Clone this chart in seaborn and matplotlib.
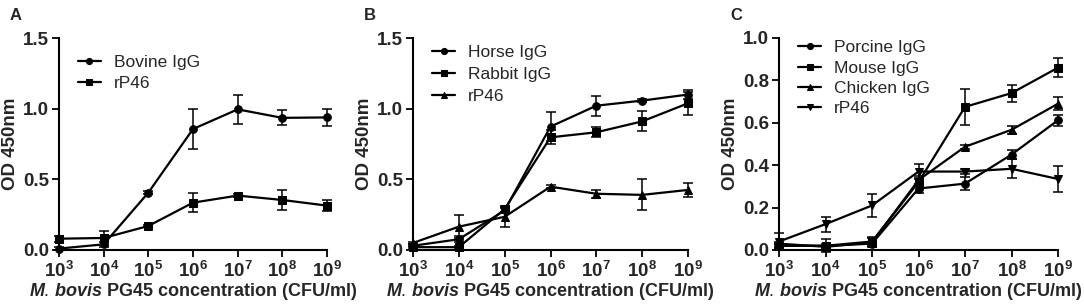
import numpy as np
import pandas as pd
import matplotlib
matplotlib.use("Agg")
import matplotlib.pyplot as plt
import seaborn as sns

sns.set_style("ticks")
plt.rcParams['font.family'] = ['Liberation Sans', 'DejaVu Sans']
plt.rcParams['mathtext.fontset'] = 'custom'
plt.rcParams['mathtext.it'] = 'Liberation Sans:italic:bold'
plt.rcParams['mathtext.bf'] = 'Liberation Sans:bold'
plt.rcParams['mathtext.rm'] = 'Liberation Sans'

conc = [1e3, 1e4, 1e5, 1e6, 1e7, 1e8, 1e9]
xtick_labels = [r"$\mathbf{10^{%d}}$" % k for k in range(3, 10)]

# Panel A
a_bovine = [0.01, 0.04, 0.406, 0.856, 0.995, 0.935, 0.938]
a_bovine_err = [0.01, 0.02, 0.01, 0.142, 0.10, 0.054, 0.06]
a_rp46 = [0.08, 0.085, 0.17, 0.335, 0.385, 0.354, 0.314]
a_rp46_err = [0.02, 0.05, 0.01, 0.066, 0.01, 0.07, 0.04]

# Panel B
b_horse = [0.03, 0.076, 0.28, 0.873, 1.021, 1.057, 1.10]
b_horse_err = [0.01, 0.02, 0.02, 0.10, 0.07, 0.01, 0.035]
b_rabbit = [0.02, 0.02, 0.29, 0.797, 0.833, 0.91, 1.038]
b_rabbit_err = [0.01, 0.01, 0.02, 0.05, 0.035, 0.07, 0.08]
b_rp46 = [0.05, 0.165, 0.235, 0.448, 0.398, 0.39, 0.425]
b_rp46_err = [0.01, 0.08, 0.07, 0.01, 0.03, 0.11, 0.047]

# Panel C
c_porcine = [0.02, 0.02, 0.03, 0.29, 0.313, 0.45, 0.612]
c_porcine_err = [0.01, 0.01, 0.01, 0.02, 0.03, 0.02, 0.025]
c_mouse = [0.02, 0.02, 0.04, 0.32, 0.675, 0.74, 0.86]
c_mouse_err = [0.01, 0.03, 0.02, 0.02, 0.085, 0.04, 0.045]
c_chicken = [0.03, 0.015, 0.035, 0.33, 0.487, 0.567, 0.69]
c_chicken_err = [0.01, 0.01, 0.02, 0.02, 0.01, 0.02, 0.03]
c_rp46 = [0.04, 0.122, 0.21, 0.37, 0.37, 0.383, 0.335]
c_rp46_err = [0.04, 0.035, 0.056, 0.035, 0.01, 0.045, 0.062]

panels = [
    ("A", 1.5, [0.0, 0.5, 1.0, 1.5],
     [("Bovine IgG", a_bovine, a_bovine_err, "o"),
      ("rP46", a_rp46, a_rp46_err, "s")]),
    ("B", 1.5, [0.0, 0.5, 1.0, 1.5],
     [("Horse IgG", b_horse, b_horse_err, "o"),
      ("Rabbit IgG", b_rabbit, b_rabbit_err, "s"),
      ("rP46", b_rp46, b_rp46_err, "^")]),
    ("C", 1.0, [0.0, 0.2, 0.4, 0.6, 0.8, 1.0],
     [("Porcine IgG", c_porcine, c_porcine_err, "o"),
      ("Mouse IgG", c_mouse, c_mouse_err, "s"),
      ("Chicken IgG", c_chicken, c_chicken_err, "^"),
      ("rP46", c_rp46, c_rp46_err, "v")]),
]

W, H = 1084, 306
fig = plt.figure(figsize=(W / 100, H / 100), dpi=100)
boxes = [(59, 327), (413, 688), (779, 1058)]
leg_anchor = [0.951, 1.0, 1.022]
leg_spacing = [0.29, 0.4, 0.29]
top_px, bot_px = 38, 250

for i, ((letter, ymax, yticks, series), (l, r)) in enumerate(zip(panels, boxes)):
    ax = fig.add_axes([l / W, (H - bot_px) / H, (r - l) / W, (bot_px - top_px) / H])
    ax.set_xscale("log")
    for name, vals, errs, m in series:
        df = pd.DataFrame({"conc": conc, "od": vals})
        ms = 5.5 if m in ("o", "s") else 6
        sns.lineplot(data=df, x="conc", y="od", ax=ax, color="black", lw=1.6,
                     marker=m, markersize=ms, markeredgecolor="black",
                     markerfacecolor="black", label=name, clip_on=False, zorder=3)
        ax.errorbar(conc, vals, yerr=errs, fmt="none", ecolor="black",
                    elinewidth=1.1, capsize=3.5, capthick=1.1, zorder=2, clip_on=False)
    ax.set_xlim(1e3, 1e9)
    ax.set_ylim(0, ymax)
    ax.set_xticks(conc)
    ax.set_xticklabels(xtick_labels)
    ax.minorticks_off()
    ax.set_yticks(yticks)
    ax.set_yticklabels(["%.1f" % v for v in yticks])
    for lab in ax.get_yticklabels():
        lab.set_fontweight("bold")
    ax.tick_params(axis="both", labelsize=13.5, length=5, width=1.3, color="black",
                   pad=2, direction="out")
    ax.tick_params(axis="x", pad=3)
    for s in ["top", "right"]:
        ax.spines[s].set_visible(False)
    for s in ["left", "bottom"]:
        ax.spines[s].set_linewidth(1.5)
        ax.spines[s].set_color("black")
    ax.set_ylabel("OD 450nm", fontsize=13.5, fontweight="bold", labelpad=3)
    ax.set_xlabel(r"$\mathit{M.\,bovis}$ PG45 concentration (CFU/ml)",
                  fontsize=13, fontweight="bold", labelpad=0)
    ax.legend(loc="upper left", bbox_to_anchor=(0.045, leg_anchor[i]), frameon=False,
              fontsize=12.5, handlelength=1.3, handletextpad=0.75,
              labelspacing=leg_spacing[i], borderaxespad=0.0, markerscale=0.8)
    fig.text((l - 49) / W, 1 - 16 / H, letter, fontsize=12, fontweight="bold",
             ha="left", va="center")

fig.savefig("out.png", dpi=100)
